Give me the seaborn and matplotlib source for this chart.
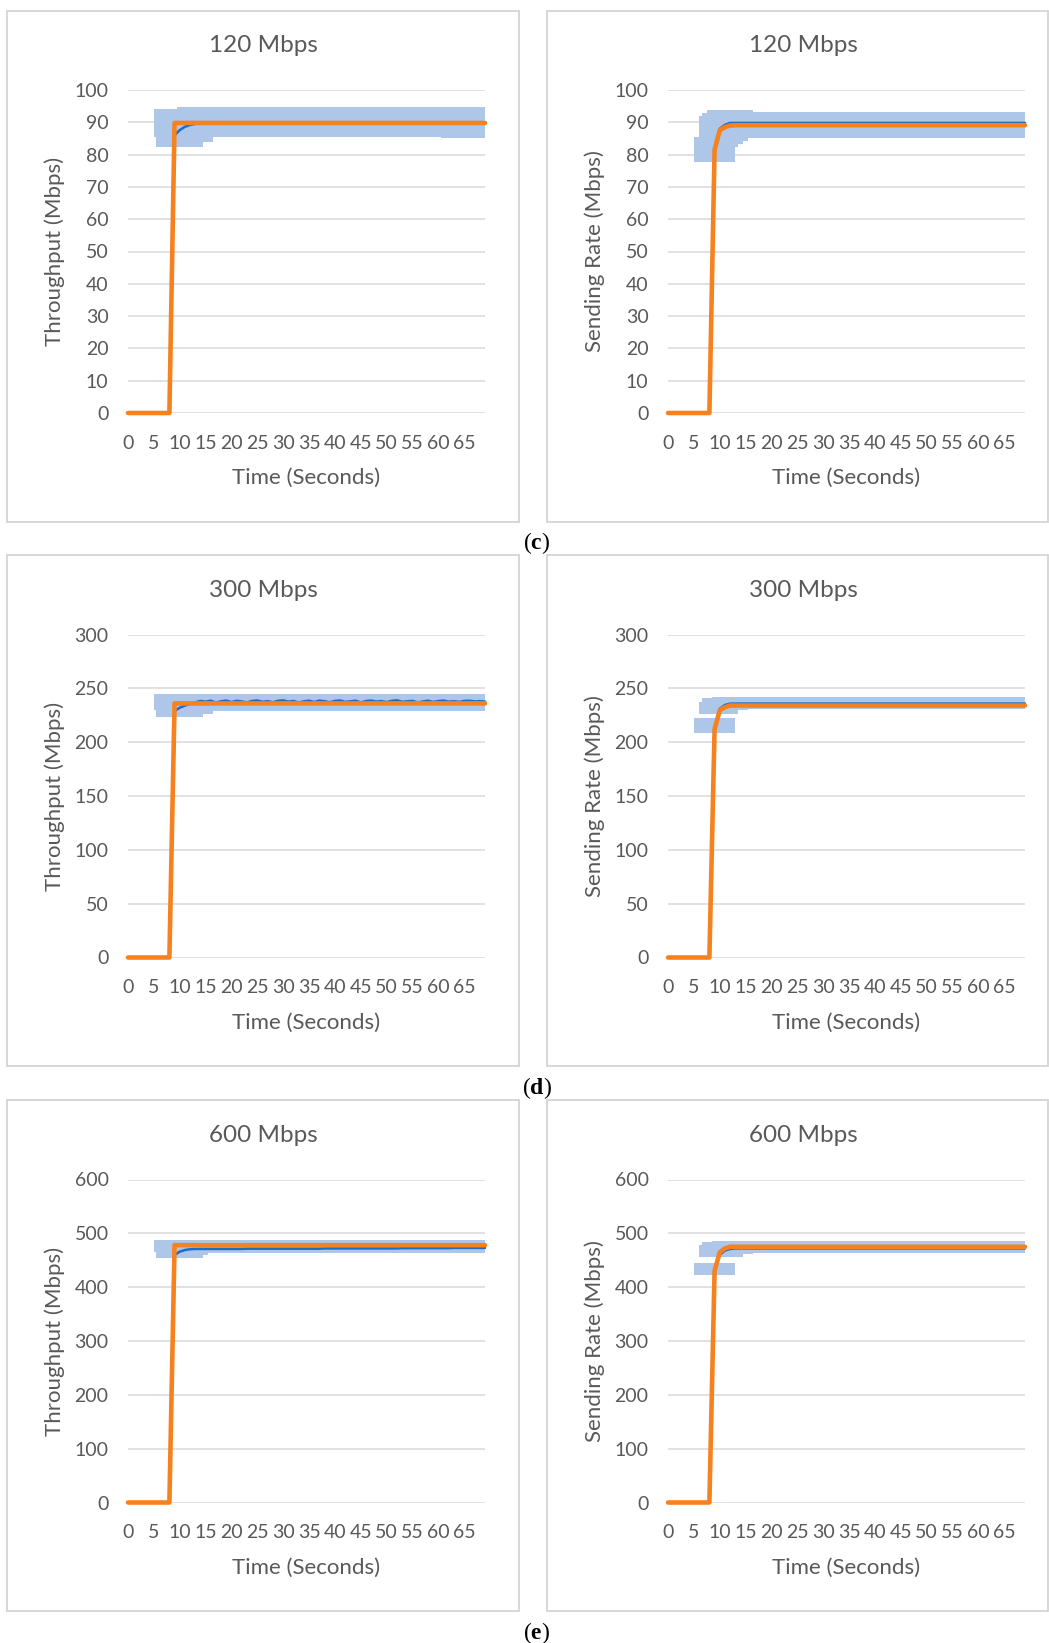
import numpy as np
import pandas as pd
import matplotlib
matplotlib.use("Agg")
import matplotlib.pyplot as plt
from matplotlib.patches import Rectangle
import seaborn as sns

nan = np.nan

# ---- data -------------------------------------------------------------
seconds = list(range(70))
x_tick_values = list(range(0, 70, 5))

# 120 Mbps, throughput
tput_120_mean = [0.0] * 9 + [86.0, 87.6, 88.6, 89.2, 89.5] + [89.7] * 56
tput_120_model = [0.0] * 9 + [89.8] * 61
tput_120_low = [nan] * 5 + [85.6] + [82.5] * 9 + [84.0] * 2 + [85.4] * 44 + [85.0] * 9
tput_120_high = [nan] * 5 + [94.0] * 5 + [94.6] * 60

# 120 Mbps, sending rate
send_120_mean = [0.0] * 9 + [82.0, 88.0, 89.2] + [89.8] * 58
send_120_model = [0.0] * 9 + [81.5, 87.5, 88.5, 89.0] + [89.1] * 57
send_120_low = [nan] * 6 + [82.5] * 8 + [83.3, 84.3] + [85.0] * 54
send_120_high = [nan] * 6 + [91.9, 92.8] + [93.8] * 9 + [93.3] * 53
send_120_low2 = [nan] * 5 + [77.6] * 9 + [nan] * 56
send_120_high2 = [nan] * 5 + [85.6] * 9 + [nan] * 56

# 300 Mbps, throughput
tput_300_mean = [0.0] * 9 + [229.0, 232.0, 234.0, 235.5] + [
    237.0, 238.2, 237.6, 238.5, 236.8, 238.0, 238.6, 237.2, 238.4, 237.8,
    236.9, 238.3, 238.7, 237.5, 238.1, 237.0, 238.4, 238.8, 237.6, 238.2,
    236.8, 237.9, 238.5, 237.3, 238.6, 238.0, 237.1, 238.3, 238.7, 237.4,
    237.9, 238.5, 236.9, 238.2, 238.6, 237.7, 238.1, 237.2, 238.4, 238.8,
    237.5, 238.0, 238.3, 236.9, 237.8, 238.5, 237.3, 238.2, 238.6, 237.6,
    238.0, 237.4, 238.3, 238.5, 237.8, 238.1, 237.7]
tput_300_model = [0.0] * 9 + [236.0] * 61
tput_300_low = [nan] * 5 + [229.5] + [223.8] * 9 + [226.3] * 2 + [229.3] * 53
tput_300_high = [nan] * 5 + [244.3] * 65

# 300 Mbps, sending rate
send_300_mean = [0.0] * 9 + [214.0, 231.0, 234.5] + [235.8] * 58
send_300_model = [0.0] * 9 + [212.0, 229.5, 232.5] + [234.0] * 58
send_300_low = [nan] * 6 + [226.4] * 8 + [229.5] * 2 + [230.4] * 54
send_300_high = [nan] * 6 + [237.6] + [240.7] * 2 + [242.3] * 61
send_300_low2 = [nan] * 5 + [208.5] * 9 + [nan] * 56
send_300_high2 = [nan] * 5 + [222.4] * 9 + [nan] * 56

# 600 Mbps, throughput
tput_600_mean = [0.0] * 9 + [460.0, 466.0, 469.0, 470.5] + [471.0] * 10 + [471.5] * 15 + [472.0] * 15 + [472.5] * 10 + [473.0] * 7
tput_600_model = [0.0] * 9 + [478.0] * 61
tput_600_low = [nan] * 5 + [466.0] + [455.0] * 9 + [460.0] + [464.3] * 54
tput_600_high = [nan] * 5 + [487.5] * 65

# 600 Mbps, sending rate
send_600_mean = [0.0] * 9 + [432.0, 460.0, 468.0, 471.0] + [472.0] * 57
send_600_model = [0.0] * 9 + [430.0, 465.0, 472.0] + [475.0] * 58
send_600_low = [nan] * 6 + [455.6] * 9 + [461.2] * 2 + [464.3] * 53
send_600_high = [nan] * 6 + [478.3] + [483.1] * 2 + [485.5] * 61
send_600_low2 = [nan] * 5 + [422.9] * 9 + [nan] * 56
send_600_high2 = [nan] * 5 + [444.6] * 9 + [nan] * 56

panel_titles = ["120 Mbps", "300 Mbps", "600 Mbps"]
y_labels = ["Throughput (Mbps)", "Sending Rate (Mbps)"]
y_limits = [100, 300, 600]
y_steps = [10, 50, 100]
row_letters = ["c", "d", "e"]

panels = [
    [
        (tput_120_mean, tput_120_model, [(tput_120_low, tput_120_high)]),
        (send_120_mean, send_120_model, [(send_120_low, send_120_high), (send_120_low2, send_120_high2)]),
    ],
    [
        (tput_300_mean, tput_300_model, [(tput_300_low, tput_300_high)]),
        (send_300_mean, send_300_model, [(send_300_low, send_300_high), (send_300_low2, send_300_high2)]),
    ],
    [
        (tput_600_mean, tput_600_model, [(tput_600_low, tput_600_high)]),
        (send_600_mean, send_600_model, [(send_600_low, send_600_high), (send_600_low2, send_600_high2)]),
    ],
]

# ---- style ------------------------------------------------------------
sns.set_theme(style="white")
plt.rcParams["font.family"] = ["Lato", "DejaVu Sans"]
plt.rcParams["mathtext.fontset"] = "custom"
plt.rcParams["mathtext.rm"] = "Liberation Serif"
plt.rcParams["mathtext.bf"] = "Liberation Serif:bold"

ORANGE = "#F5821F"
BLUE = "#1C6DC6"
BAND = "#AEC6E8"
GRID = "#D9D9D9"
TEXT = "#595959"
FRAME = "#D4D4D4"

W, H = 1049, 1643
fig = plt.figure(figsize=(W / 100, H / 100), dpi=100)
fig.patch.set_facecolor("white")

row_tops = [10.5, 555.0, 1100.0]
col_lefts = [7.0, 547.0]
col_widths = [512.0, 501.0]
box_h = 511.0


def fx(px):
    return px / W


def fy(py):
    return 1 - py / H


t = np.array(seconds, dtype=float)

for i, row in enumerate(panels):
    top = row_tops[i]
    for j, (mean_vals, model_vals, bands) in enumerate(row):
        left = col_lefts[j]
        # chart frame
        fig.patches.append(Rectangle((fx(left), fy(top + box_h)), col_widths[j] / W, box_h / H,
                                     transform=fig.transFigure, fill=False,
                                     edgecolor=FRAME, linewidth=1.3))
        pl, pr = left + 121, left + 478
        pt, pb = top + 79.5, top + 402.5
        ax = fig.add_axes([fx(pl), fy(pb), (pr - pl) / W, (pb - pt) / H])
        ax.set_facecolor("none")
        ax.set_axisbelow(True)
        ax.yaxis.grid(True, color=GRID, linewidth=1.1)
        ax.xaxis.grid(False)

        for lo, hi in bands:
            lo = np.array(lo, dtype=float)
            hi = np.array(hi, dtype=float)
            m = ~np.isnan(lo)
            ax.fill_between(t[m], lo[m], hi[m], step="mid", color=BAND, linewidth=0, zorder=1)

        df = pd.DataFrame({"Time": seconds, "mean": mean_vals, "model": model_vals})
        sns.lineplot(data=df, x="Time", y="mean", color=BLUE, linewidth=1.8, ax=ax,
                     zorder=2, clip_on=False, solid_joinstyle="round")
        sns.lineplot(data=df, x="Time", y="model", color=ORANGE, linewidth=3.3, ax=ax,
                     zorder=3, clip_on=False, solid_joinstyle="round", solid_capstyle="round")

        ymax = y_limits[i]
        ax.set_xlim(0, 69)
        ax.set_ylim(0, ymax)
        ax.set_xticks(x_tick_values)
        ax.set_yticks(np.arange(0, ymax + 1, y_steps[i]))
        ax.tick_params(axis="both", length=0, labelsize=14, labelcolor=TEXT)
        ax.tick_params(axis="y", pad=14)
        ax.tick_params(axis="x", pad=15.5)
        for s in ax.spines.values():
            s.set_visible(False)
        ax.set_xlabel("")
        ax.set_ylabel("")

        fig.text(fx(left + 256), fy(top + 35.5), panel_titles[i], ha="center", va="center",
                 fontsize=17.5, color=TEXT)
        fig.text(fx((pl + pr) / 2), fy(top + 467.5), "Time (Seconds)", ha="center", va="center",
                 fontsize=16, color=TEXT)
        fig.text(fx(left + 48), fy((pt + pb) / 2), y_labels[j], ha="center", va="center",
                 rotation=90, fontsize=16, color=TEXT)

    fig.text(fx(537), fy(top + box_h + 22), "(" + r"$\mathbf{" + row_letters[i] + "}$" + ")",
             ha="center", va="center", fontsize=17, color="black", family="Liberation Serif")

fig.savefig("out.png", dpi=100, facecolor="white")
